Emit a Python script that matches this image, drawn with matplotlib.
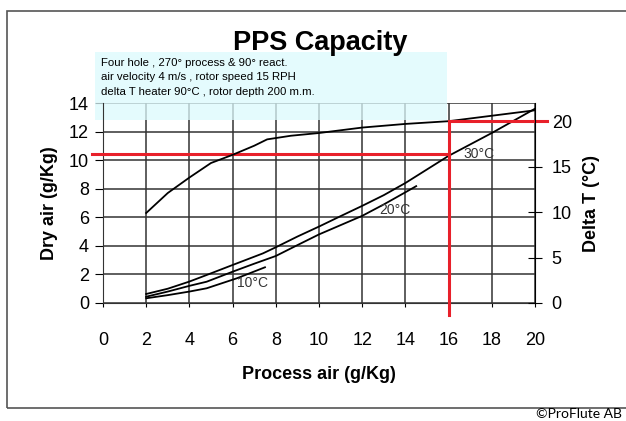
import matplotlib
matplotlib.use("Agg")
import matplotlib.pyplot as plt
import matplotlib.patches as patches

plt.rcParams['font.family'] = ['Liberation Sans', 'DejaVu Sans']

# process air (g/Kg) vs dry air (g/Kg) for each regeneration temp
x_30 = [2, 3, 4, 4.8, 6, 7.4, 8, 9, 10, 11, 12, 13, 14, 15, 16, 17, 18, 19, 20]
y_30 = [0.63, 1.0, 1.5, 1.96, 2.66, 3.47, 3.9, 4.65, 5.35, 6.08, 6.8, 7.55, 8.4, 9.35, 10.3, 11.1, 11.9, 12.75, 13.6]

x_20 = [2, 3, 4, 4.8, 6, 7, 8, 9, 10, 11, 12, 13, 14, 14.5]
y_20 = [0.44, 0.8, 1.2, 1.49, 2.19, 2.75, 3.29, 4.05, 4.8, 5.45, 6.1, 6.9, 7.75, 8.18]

x_10 = [2, 3, 4, 4.8, 6.2, 7.5]
y_10 = [0.33, 0.55, 0.8, 1.03, 1.73, 2.5]

# delta T (right axis)
x_dt = [2, 3, 4, 5, 6, 7, 7.6, 8.7, 10, 11, 12, 14, 16, 18, 20]
y_dt = [9.9, 12.1, 13.8, 15.4, 16.3, 17.3, 18.0, 18.4, 18.7, 19.0, 19.3, 19.7, 20.0, 20.6, 21.2]

# design point
proc_pt = 16
dry_pt = 10.4
dt_pt = 20

xticks = list(range(0, 21, 2))
yticks = list(range(0, 15, 2))
dt_ticks = [0, 5, 10, 15, 20]

info = ["Four hole , 270° process & 90° react.",
        "air velocity 4 m/s , rotor speed 15 RPH",
        "delta T heater 90°C , rotor depth 200 m.m."]

fig = plt.figure(figsize=(6.26, 4.21), dpi=100)
ax = fig.add_axes([0.1645, 0.2803, 0.6901, 0.475])

ax.set_xlim(0, 20)
ax.set_ylim(0, 14)
ax.set_xticks(xticks)
ax.set_yticks(yticks)
ax.grid(True, color='#333333', lw=1.1)
ax.set_axisbelow(True)
for s in ['top', 'right']:
    ax.spines[s].set_visible(False)
for s in ['left', 'bottom']:
    ax.spines[s].set_color('#333333')
ax.tick_params(axis='y', direction='out', length=6, pad=4, labelsize=13)
ax.tick_params(axis='x', direction='out', length=3, pad=18, labelsize=13)

ax.plot(x_30, y_30, color='black', lw=1.3, zorder=3)
ax.plot(x_20, y_20, color='black', lw=1.3, zorder=3)
ax.plot(x_10, y_10, color='black', lw=1.3, zorder=3)

ax.text(6.2, 1.4, "10°C", fontsize=10, color='#333333', va='center')
ax.text(12.8, 6.5, "20°C", fontsize=10, color='#333333', va='center')
ax.text(16.7, 10.4, "30°C", fontsize=10, color='#333333', va='center')

ax.plot([-0.5, proc_pt], [dry_pt, dry_pt], color='#e8202a', lw=2.2, clip_on=False, zorder=4)

ax.set_xlabel("Process air (g/Kg)", fontsize=13, fontweight='bold', labelpad=12)
ax.set_ylabel("Dry air (g/Kg)", fontsize=13, fontweight='bold', labelpad=8)

# info box
box = patches.Rectangle((95/626, 1-120/421), (447-95)/626, (120-52)/421,
                        transform=fig.transFigure, facecolor='#dcfafd', edgecolor='none',
                        alpha=0.75, clip_on=False, zorder=1)
ax.add_patch(box)
for i, line in enumerate(info):
    fig.text(101/626, 1-(63+14.5*i)/421, line, fontsize=8.2, va='center')

ax2 = ax.twinx()
ax2.set_ylim(0, 22)
ax2.set_yticks(dt_ticks)
for s in ['top', 'left', 'bottom']:
    ax2.spines[s].set_visible(False)
ax2.spines['right'].set_color('black')
ax2.tick_params(axis='y', direction='inout', length=10, pad=7, labelsize=13)
ax2.plot(x_dt, y_dt, color='black', lw=1.3)
ax2.plot([proc_pt, proc_pt], [-1.3, dt_pt], color='#e8202a', lw=2.2, clip_on=False)
ax2.plot([proc_pt, 20.55], [dt_pt, dt_pt], color='#e8202a', lw=2.2, clip_on=False)
ax2.set_ylabel("Delta T (°C)", fontsize=13, fontweight='bold', labelpad=8)

fig.text(0.511, 0.898, "PPS Capacity", fontsize=19.5, fontweight='bold', ha='center', va='center')

frame = patches.Rectangle((7/626, 1-408/421), 1.0, (408-11)/421, transform=fig.transFigure,
                          fill=False, edgecolor='#555555', lw=1.2)
fig.patches.append(frame)

fig.text(0.994, 1-414/421, "©ProFlute AB", fontsize=10, ha='right', va='center', family='Lato')

plt.savefig("out.png", dpi=100)
